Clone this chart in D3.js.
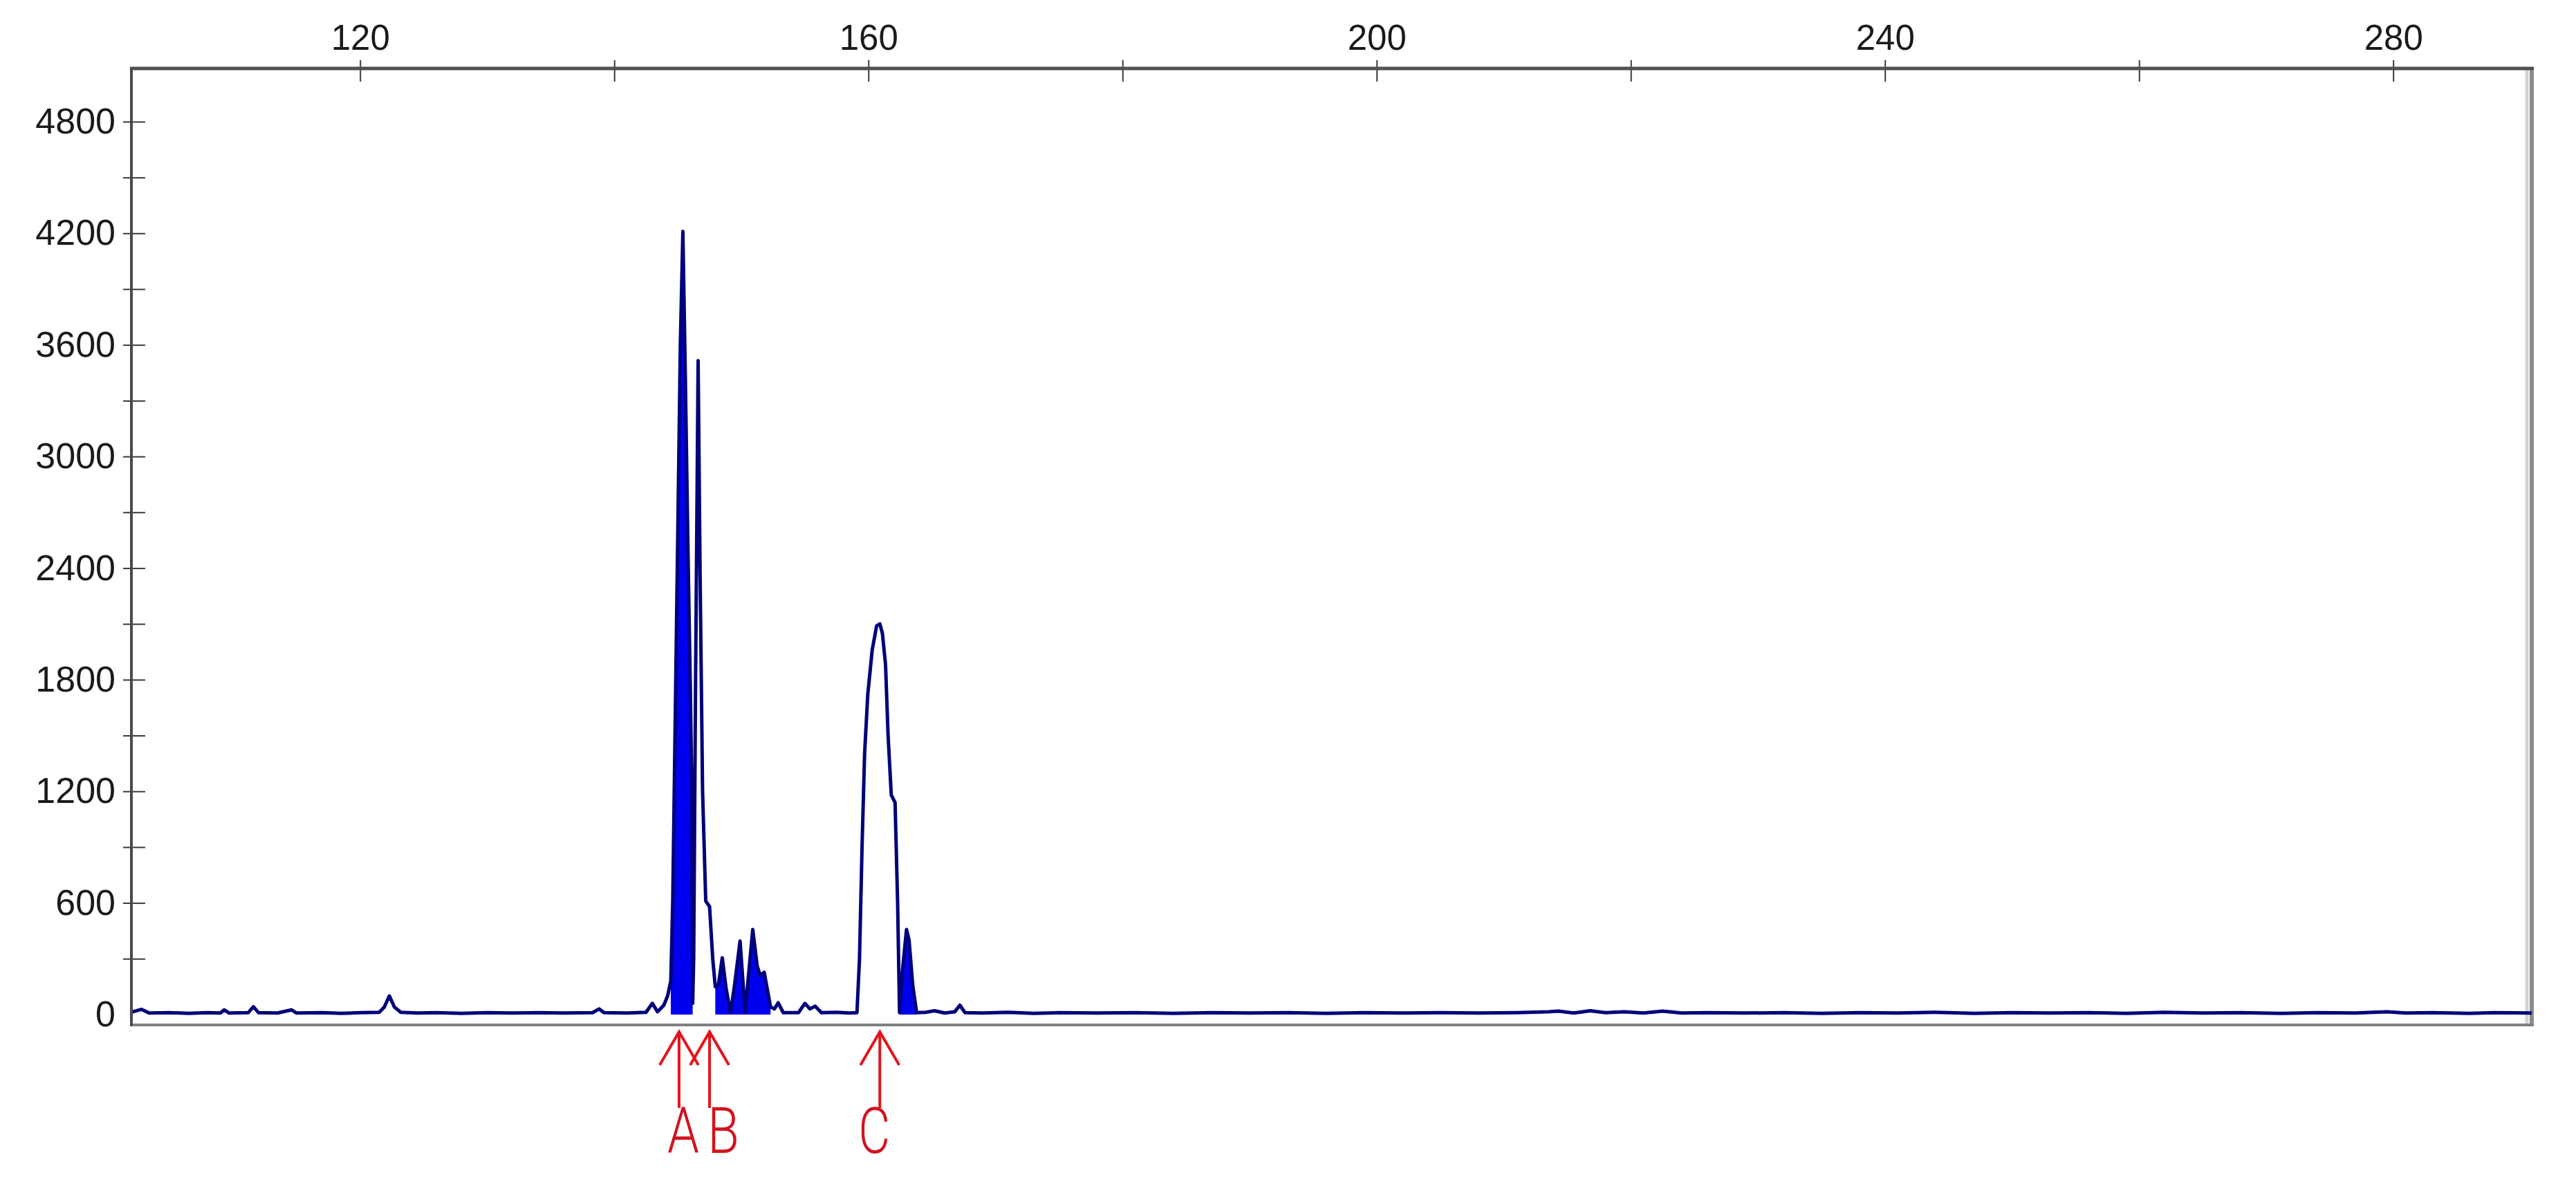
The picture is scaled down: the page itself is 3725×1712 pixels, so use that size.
<!DOCTYPE html>
<html>
<head>
<meta charset="utf-8">
<script src="https://cdn.jsdelivr.net/npm/d3@7"></script>
<style>
  html, body { margin: 0; padding: 0; background: #ffffff; }
  svg { display: block; }
</style>
</head>
<body>
<svg id="chart" width="3725" height="1712"></svg>
<script>
// ---- data ----
const sizes = [
  102.0, 102.8, 103.4, 105.0, 106.5, 108.0, 109.0, 109.3, 109.7, 111.2, 111.6, 112.0,
  113.5, 114.6, 115.0, 117.0, 118.5, 120.0, 121.5, 121.9, 122.3, 122.7, 123.2, 124.5,
  126.0, 128.0, 130.0, 132.0, 134.0, 136.0, 138.3, 138.8, 139.2, 141.0, 142.5, 143.0,
  143.4, 143.9, 144.2, 144.45, 144.6, 144.8, 145.0, 145.2, 145.4, 145.6, 145.8, 146.0,
  146.1, 146.17, 146.25, 146.4, 146.6, 146.75, 146.95, 147.2, 147.5, 147.75, 147.95, 148.2,
  148.5, 148.8, 149.15, 149.45, 149.9, 150.3, 150.55, 150.9, 151.25, 151.5, 151.8, 152.3,
  152.6, 152.9, 153.3, 154.5, 155.0, 155.4, 155.8, 156.3, 157.5, 158.5, 159.1, 159.3,
  159.5, 159.7, 159.95, 160.3, 160.65, 160.9, 161.1, 161.35, 161.55, 161.8, 162.1, 162.3,
  162.45, 162.7, 163.0, 163.2, 163.5, 163.8, 164.5, 165.2, 166.0, 166.8, 167.2, 167.6,
  169.0, 171, 173, 175, 178, 181, 184, 187, 190, 193, 196, 199,
  202, 205, 208, 211, 213.5, 214.3, 215.5, 216.8, 218, 219.5, 221, 222.5,
  224, 226, 229, 232, 235, 238, 241, 244, 247, 250, 253, 256,
  259, 262, 265, 268, 271, 274, 277, 279.5, 281, 283, 286, 288,
  290.9
];
const rfu = [
  12, 28, 8, 10, 6, 10, 8, 25, 8, 10, 42, 10,
  8, 25, 8, 10, 6, 10, 12, 40, 100, 40, 12, 8,
  10, 6, 10, 8, 10, 8, 10, 30, 10, 8, 12, 60,
  15, 50, 100, 180, 600, 1600, 2600, 3600, 4210, 3400, 2500, 1700,
  1200, 60, 300, 1800, 3515, 2400, 1200, 610, 580, 300, 149, 160,
  305, 140, 10, 150, 395, 10, 200, 457, 260, 208, 227, 41,
  30, 63, 10, 10, 60, 30, 45, 10, 12, 8, 10, 300,
  900, 1400, 1720, 1960, 2090, 2100, 2050, 1880, 1500, 1180, 1140, 600,
  10, 250, 457, 400, 150, 10, 12, 20, 8, 15, 50, 10,
  8, 12, 6, 10, 8, 10, 6, 10, 8, 10, 6, 10,
  8, 10, 8, 10, 15, 18, 8, 20, 10, 15, 8, 18,
  8, 10, 8, 10, 6, 10, 8, 12, 6, 10, 8, 10,
  6, 12, 8, 10, 6, 10, 8, 15, 8, 10, 6, 10,
  8
];
// size ranges of the peaks drawn filled
const filledRanges = [[144.45, 146.17], [147.95, 152.3], [162.45, 163.8]];
// top axis
const xTicks = [120, 140, 160, 180, 200, 220, 240, 260, 280];
const xTickLabels = [120, 160, 200, 240, 280];
// left axis
const yTicks = d3.range(0, 4801, 300);
const yTickLabels = [0, 600, 1200, 1800, 2400, 3000, 3600, 4200, 4800];
// marked alleles
const markerNames = ["A", "B", "C"];
const markerSizes = [145.1, 147.5, 160.9];

// ---- layout ----
const svg = d3.select("#chart");
const pL = 190, pR = 3661, pT = 99, pB = 1482;

const x = d3.scaleLinear().domain([102, 290.9]).range([pL, pR]);
const y = d3.scaleLinear().domain([-56, 5086]).range([pB, pT]);

const points = sizes.map((s, i) => ({ s, v: rfu[i] }));

// frame: right (with 3D shading) and bottom
svg.append("line").attr("x1", pR - 7).attr("x2", pR - 7).attr("y1", pT).attr("y2", pB)
  .attr("stroke", "#d2d2d2").attr("stroke-width", 5);
svg.append("line").attr("x1", pR).attr("x2", pR).attr("y1", pT - 2).attr("y2", pB + 2)
  .attr("stroke", "#8c8c8c").attr("stroke-width", 6);
svg.append("line").attr("x1", pL).attr("x2", pR + 3).attr("y1", pB).attr("y2", pB)
  .attr("stroke", "#808080").attr("stroke-width", 4);

// filled peaks
const area = d3.area().x(d => x(d.s)).y0(y(0)).y1(d => y(d.v));
filledRanges.forEach(([a, b]) => {
  const seg = points.filter(d => d.s >= a - 1e-9 && d.s <= b + 1e-9);
  svg.append("path").datum(seg).attr("d", area).attr("fill", "#0000f0").attr("stroke", "none");
});

// signal trace
const line = d3.line().x(d => x(d.s)).y(d => y(d.v));
svg.append("path").datum(points).attr("d", line)
  .attr("fill", "none").attr("stroke", "#00007a").attr("stroke-width", 5)
  .attr("stroke-linejoin", "round");

// top axis
const fontFam = "'Liberation Sans', Arial, sans-serif";
const topOuter = d3.axisTop(x).tickValues(xTicks).tickSize(12).tickPadding(15)
  .tickFormat(d => xTickLabels.includes(d) ? d : "");
const gTop = svg.append("g").attr("transform", `translate(0,${pT})`).call(topOuter);
const topInner = d3.axisBottom(x).tickValues(xTicks).tickSize(19).tickFormat("");
const gTop2 = svg.append("g").attr("transform", `translate(0,${pT})`).call(topInner);
[gTop, gTop2].forEach(g => {
  g.select(".domain").remove();
  g.selectAll(".tick line").attr("stroke", "#3a3a3a").attr("stroke-width", 2);
});
gTop.selectAll("text").attr("font-family", fontFam).attr("font-size", 51).attr("fill", "#1a1a1a");
svg.append("line").attr("x1", pL - 2).attr("x2", pR + 3).attr("y1", pT).attr("y2", pT)
  .attr("stroke", "#505050").attr("stroke-width", 5);

// left axis
const leftOuter = d3.axisLeft(y).tickValues(yTicks).tickSize(12).tickPadding(11)
  .tickFormat(d => yTickLabels.includes(d) ? d : "");
const gLeft = svg.append("g").attr("transform", `translate(${pL},0)`).call(leftOuter);
const leftInner = d3.axisRight(y).tickValues(yTicks.filter(d => d > 0)).tickSize(20).tickFormat("");
const gLeft2 = svg.append("g").attr("transform", `translate(${pL},0)`).call(leftInner);
[gLeft, gLeft2].forEach(g => {
  g.select(".domain").remove();
  g.selectAll(".tick line").attr("stroke", "#3a3a3a").attr("stroke-width", 2);
});
gLeft.selectAll(".tick").filter(d => d === 0).select("line").remove();
gLeft.selectAll("text").attr("font-family", fontFam).attr("font-size", 52).attr("fill", "#1a1a1a");
svg.append("line").attr("x1", pL).attr("x2", pL).attr("y1", pT).attr("y2", pB + 2)
  .attr("stroke", "#4a4a4a").attr("stroke-width", 4);

// allele markers (red arrows with letters)
const labelShift = { A: 6, B: 20, C: -8 };
const red = "#e3141c";
markerNames.forEach((name, i) => {
  const mx = x(markerSizes[i]);
  const tipY = pB + 10, shaftEnd = 1602, wingY = 1540, wing = 28;
  svg.append("path")
    .attr("d", `M${mx},${tipY} L${mx},${shaftEnd} M${mx - wing},${wingY} L${mx},${tipY} L${mx + wing},${wingY}`)
    .attr("fill", "none").attr("stroke", red).attr("stroke-width", 4).attr("stroke-linejoin", "miter");
  svg.append("text")
    .attr("x", mx + labelShift[name]).attr("y", 1667)
    .attr("text-anchor", "middle")
    .attr("font-family", "Roboto, 'Liberation Sans', sans-serif")
    .attr("font-weight", 300)
    .attr("font-size", 92)
    .attr("textLength", 46).attr("lengthAdjust", "spacingAndGlyphs")
    .attr("fill", "#d0141e")
    .text(name);
});
</script>
</body>
</html>
